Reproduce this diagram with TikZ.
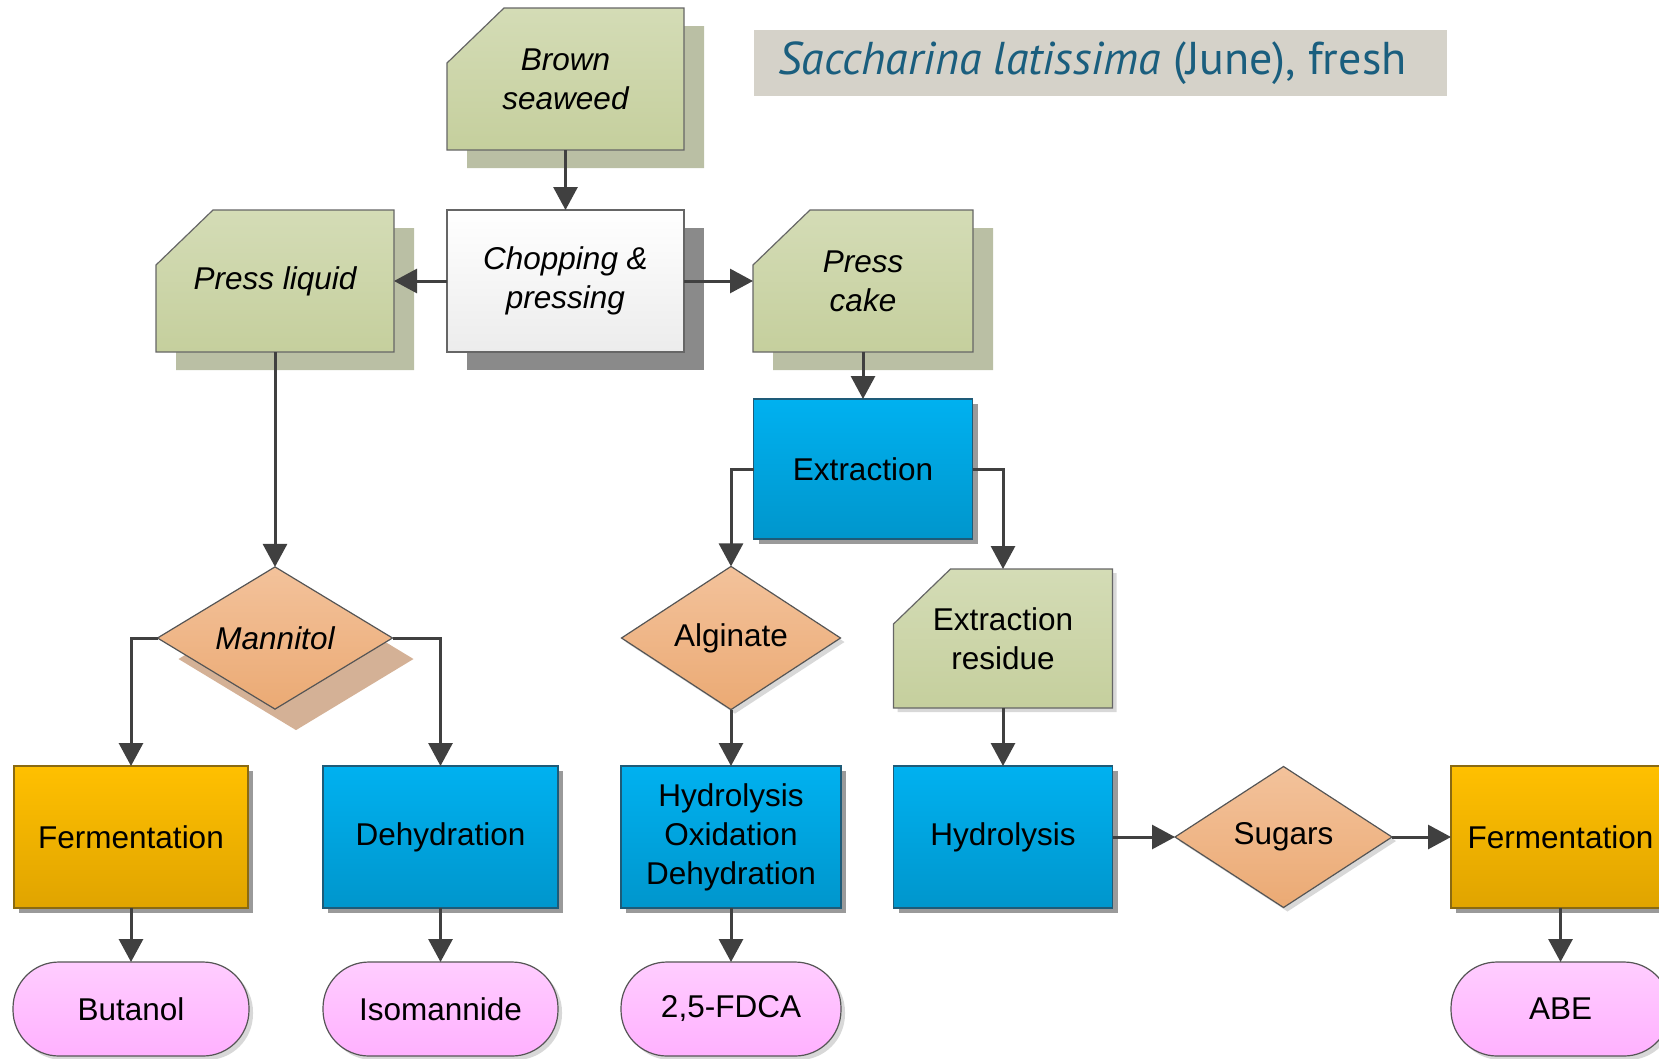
\documentclass[tikz,border=0pt]{standalone}
\usepackage{fontspec}
\setmainfont{Liberation Sans}
\newfontfamily\titlefont{PT Sans}
\usetikzlibrary{shapes.geometric,arrows.meta,shadows,backgrounds}
\definecolor{greenT}{HTML}{D4DCB6}
\definecolor{greenB}{HTML}{C5CF9D}
\definecolor{greenSh}{HTML}{BABFA4}
\definecolor{cardBd}{HTML}{666666}
\definecolor{greyT}{HTML}{FFFFFF}
\definecolor{greyB}{HTML}{ECECEC}
\definecolor{greySh}{HTML}{8A8A8A}
\definecolor{blueT}{HTML}{00B1F0}
\definecolor{blueB}{HTML}{0096CC}
\definecolor{blueBd}{HTML}{1E5B78}
\definecolor{orT}{HTML}{FFC000}
\definecolor{orB}{HTML}{E0A400}
\definecolor{orBd}{HTML}{8A6A12}
\definecolor{dmT}{HTML}{F3C29B}
\definecolor{dmB}{HTML}{EBAA74}
\definecolor{dmSh}{HTML}{D4B196}
\definecolor{pkT}{HTML}{FFCDFF}
\definecolor{pkB}{HTML}{FFB1FF}
\definecolor{lineBd}{HTML}{555555}
\definecolor{softSh}{HTML}{D8D8D8}
\definecolor{boxSh}{HTML}{9A9A9A}
\definecolor{connC}{HTML}{404040}
\definecolor{titleBg}{HTML}{D5D2C9}
\definecolor{titleTx}{HTML}{1A5E7E}
\newcommand\nf{\fontsize{31.5}{39}\selectfont}
\newcommand\cardpath[2]{% #1 node, #2 style
  \path[#2] (#1.south west) -- ([yshift=-55pt]#1.north west) -- ([xshift=57pt]#1.north west)
    -- (#1.north east) -- (#1.south east) -- cycle;}
\tikzset{
  base/.style={inner sep=2pt, outer sep=0pt, align=center, font=\nf, text=black},
  itbase/.style={base, font=\nf\itshape},
  cardtext/.style={itbase, rectangle, minimum height=142pt},
  cardfill/.style={draw=cardBd, line width=1.2pt, top color=greenT, bottom color=greenB,
    drop shadow={shadow xshift=20pt, shadow yshift=-18pt, fill=greenSh, opacity=1}},
  cardfillsmall/.style={draw=cardBd, line width=1.2pt, top color=greenT, bottom color=greenB,
    drop shadow={shadow xshift=4pt, shadow yshift=-4pt, fill=softSh, opacity=1}},
  chopbox/.style={itbase, rectangle, minimum height=142pt, draw=cardBd, line width=1.2pt,
    top color=greyT, bottom color=greyB,
    drop shadow={shadow xshift=20pt, shadow yshift=-18pt, fill=greySh, opacity=1}},
  bluebox/.style={base, rectangle, minimum height=142pt, draw=blueBd, line width=1.2pt,
    top color=blueT, bottom color=blueB,
    drop shadow={shadow xshift=5pt, shadow yshift=-5pt, fill=boxSh, opacity=1}},
  orbox/.style={base, rectangle, minimum height=142pt, draw=orBd, line width=1.2pt,
    top color=orT, bottom color=orB,
    drop shadow={shadow xshift=5pt, shadow yshift=-5pt, fill=boxSh, opacity=1}},
  dmd/.style={base, diamond, inner sep=0pt, draw=lineBd, line width=1.2pt,
    top color=dmT, bottom color=dmB,
    drop shadow={shadow xshift=4pt, shadow yshift=-4pt, fill=softSh, opacity=1}},
  dmdbig/.style={base, diamond, inner sep=0pt, draw=lineBd, line width=1.2pt,
    top color=dmT, bottom color=dmB,
    drop shadow={shadow xshift=21pt, shadow yshift=-21pt, fill=dmSh, opacity=1}},
  term/.style={base, rectangle, rounded corners=46pt, minimum height=94pt, draw=lineBd,
    line width=1.2pt, top color=pkT, bottom color=pkB,
    drop shadow={shadow xshift=4pt, shadow yshift=-4pt, fill=softSh, opacity=1}},
  conn/.style={line width=3pt, draw=connC, -{Triangle[length=23pt,width=24pt]}},
}
\begin{document}
\begin{tikzpicture}[x=1pt,y=-1pt]
\useasboundingbox (0,0) rectangle (1659,1058);
\clip (0,0) rectangle (1659,1058);

% title
\node[fill=titleBg, minimum width=693pt, minimum height=66pt, inner sep=0pt, text=titleTx,
  font=\titlefont\fontsize{46}{48}\selectfont] (title) at (1100.5,63)
  {\hspace*{-16pt}\textit{Saccharina latissima} (June), fresh};

% cards (text nodes)
\node[cardtext, minimum width=237pt] (seaweed) at (565.5,79) {Brown\\seaweed};
\node[cardtext, minimum width=238pt] (pliquid) at (275,281) {Press liquid};
\node[cardtext, minimum width=220pt] (pcake) at (863,281) {Press\\cake};
\node[base, rectangle, minimum width=219pt, minimum height=139pt] (residue) at (1003,638.5) {Extraction\\residue};
\begin{pgfonlayer}{background}
  \cardpath{seaweed}{cardfill}
  \cardpath{pliquid}{cardfill}
  \cardpath{pcake}{cardfill}
  \cardpath{residue}{cardfillsmall}
\end{pgfonlayer}

\node[chopbox, minimum width=237pt] (chop) at (565.5,281) {Chopping \&\\pressing};
\node[bluebox, minimum width=219pt, minimum height=140pt] (extr) at (863,469) {Extraction};

\node[dmdbig, minimum width=235pt, minimum height=138pt, font=\nf\itshape] (mannitol) at (275,638) {Mannitol};
\node[dmd, minimum width=219pt, minimum height=138pt] (alginate) at (731,638) {Alginate};

\node[orbox, minimum width=234pt] (fermL) at (131,837) {Fermentation};
\node[bluebox, minimum width=235pt] (dehyd) at (440.5,837) {Dehydration};
\node[bluebox, minimum width=220pt] (hod) at (731,837) {Hydrolysis\\Oxidation\\Dehydration};
\node[bluebox, minimum width=219pt] (hydro) at (1003,837) {Hydrolysis};
\node[dmd, minimum width=217pt, minimum height=141pt] (sugars) at (1283.5,837) {Sugars};
\node[orbox, minimum width=219pt] (fermR) at (1560.5,837) {Fermentation};

\node[term, minimum width=236pt] (butanol) at (131,1009) {Butanol};
\node[term, minimum width=235pt] (isoman) at (440.5,1009) {Isomannide};
\node[term, minimum width=220pt] (fdca) at (731,1009) {2,5-FDCA};
\node[term, minimum width=219pt] (abe) at (1560.5,1009) {ABE};

% connectors
\draw[conn] (seaweed) -- (chop);
\draw[conn] (chop) -- (pliquid);
\draw[conn] (chop) -- (pcake);
\draw[conn] (pcake) -- (extr);
\draw[conn] (pliquid) -- (mannitol);
\draw[conn] (extr.west) -| (alginate.north);
\draw[conn] (extr.east) -| (residue.north);
\draw[conn] (mannitol.west) -| (fermL.north);
\draw[conn] (mannitol.east) -| (dehyd.north);
\draw[conn] (alginate) -- (hod);
\draw[conn] (residue) -- (hydro);
\draw[conn] (hydro) -- (sugars);
\draw[conn] (sugars) -- (fermR);
\draw[conn] (fermL) -- (butanol);
\draw[conn] (dehyd) -- (isoman);
\draw[conn] (hod) -- (fdca);
\draw[conn] (fermR) -- (abe);
\end{tikzpicture}
\end{document}
